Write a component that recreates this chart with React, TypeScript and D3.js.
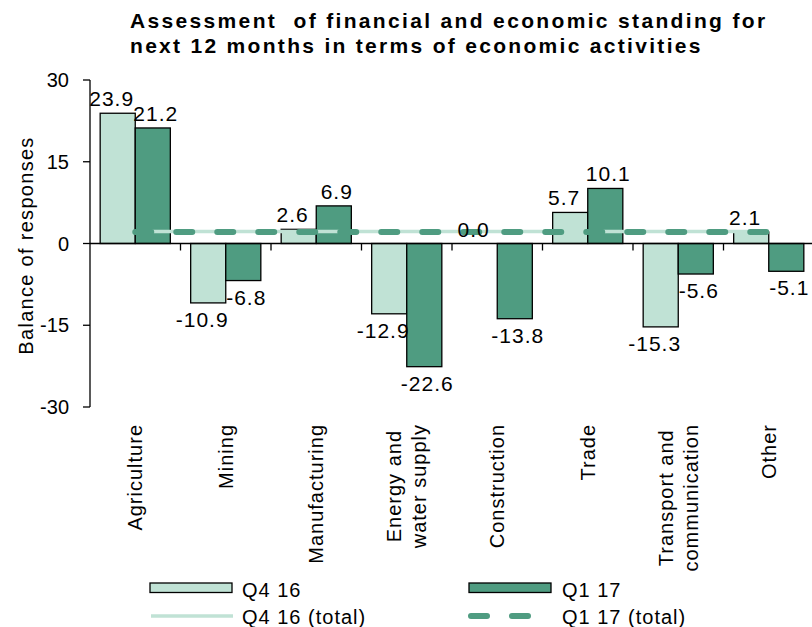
import * as d3 from "d3";

const categories = [
  ["Agriculture"],
  ["Mining"],
  ["Manufacturing"],
  ["Energy and", "water supply"],
  ["Construction"],
  ["Trade"],
  ["Transport and", "communication"],
  ["Other"],
];
const seriesNames = ["Q4 16", "Q1 17"];
const q4Values = [23.9, -10.9, 2.6, -12.9, 0.0, 5.7, -15.3, 2.1];
const q1Values = [21.2, -6.8, 6.9, -22.6, -13.8, 10.1, -5.6, -5.1];
const q4Total = [2.2, 2.2, 2.2, 2.2, 2.2, 2.2, 2.2, 2.2];
const q1Total = [2.1, 2.1, 2.1, 2.1, 2.1, 2.1, 2.1, 2.1];
const yTicks = [-30, -15, 0, 15, 30];
const titleLines = [
  "Assessment  of financial and economic standing for",
  "next 12 months in terms of economic activities",
];

const FONT = "'Liberation Sans', Arial, sans-serif";
const LIGHT = "#c0e2d5";
const DARK = "#4f9c81";

// canvas measure for centering rotated multi-line labels
let ctx: CanvasRenderingContext2D | null = null;
function textWidth(s: string, size: number, spacing: number, weight = "normal") {
  if (!ctx) ctx = document.createElement("canvas").getContext("2d");
  if (!ctx) return s.length * size * 0.5;
  ctx.font = `${weight} ${size}px ${FONT}`;
  return ctx.measureText(s).width + spacing * s.length;
}

export default function App() {
  const width = 812;
  const height = 627;

  const keys = categories.map((c) => c.join(" "));
  const x = d3.scaleBand<string>().domain(keys).range([90, 814]).padding(0);
  const inner = d3
    .scaleBand<string>()
    .domain(seriesNames)
    .range([0, x.bandwidth()])
    .paddingInner(0)
    .paddingOuter(0.29);
  const y = d3.scaleLinear().domain([-30, 30]).range([407, 80]);

  const series = [
    { name: seriesNames[0], values: q4Values, fill: LIGHT, dx: -6 },
    { name: seriesNames[1], values: q1Values, fill: DARK, dx: 3 },
  ];

  const line = d3
    .line<number>()
    .x((_, i) => (x(keys[i]) ?? 0) + x.bandwidth() / 2)
    .y((d) => y(d));

  const labelSize = 20;
  const labelSpacing = 1;
  // the title is spread wider than the plain font gives, like the source
  const titleStretch = 1.155;

  return (
    <svg
      width={width}
      height={height}
      style={{ position: "absolute", left: 0, top: 0, display: "block" }}
      fontFamily={FONT}
    >
      <rect width={width} height={height} fill="#fff" />

      {/* title */}
      {titleLines.map((t, i) => (
        <text
          key={i}
          x={130}
          y={28 + i * 25}
          fontSize={21}
          fontWeight="bold"
          letterSpacing={0.6}
          textLength={textWidth(t, 21, 0.6, "bold") * titleStretch}
          lengthAdjust="spacing"
          style={{ whiteSpace: "pre" }}
        >
          {t}
        </text>
      ))}

      {/* y axis title */}
      <text
        transform={`translate(33,${(y(30) + y(-30)) / 2 + 2}) rotate(-90)`}
        textAnchor="middle"
        fontSize={20}
        letterSpacing={1.3}
      >
        Balance of responses
      </text>

      {/* bars */}
      {series.map((s) =>
        s.values.map((v, i) => {
          const bx = (x(keys[i]) ?? 0) + (inner(s.name) ?? 0);
          const y0 = y(Math.max(0, v));
          const y1 = y(Math.min(0, v));
          return (
            <rect
              key={s.name + i}
              x={bx}
              y={y0}
              width={inner.bandwidth()}
              height={Math.max(0, y1 - y0)}
              fill={s.fill}
              stroke="#000"
              strokeWidth={1.3}
            />
          );
        })
      )}

      {/* y axis */}
      <line x1={90} x2={90} y1={y(30)} y2={y(-30)} stroke="#000" strokeWidth={1.3} />
      {yTicks.map((t) => (
        <g key={t}>
          <line x1={83} x2={90} y1={y(t)} y2={y(t)} stroke="#000" strokeWidth={1.3} />
          <text x={69} y={y(t) + 7} textAnchor="end" fontSize={20}>
            {t}
          </text>
        </g>
      ))}

      {/* x axis */}
      <line x1={90} x2={814} y1={y(0)} y2={y(0)} stroke="#000" strokeWidth={1.3} />
      {keys.map((k) => (
        <line
          key={k}
          x1={(x(k) ?? 0) + x.bandwidth()}
          x2={(x(k) ?? 0) + x.bandwidth()}
          y1={y(0)}
          y2={y(0) + 7}
          stroke="#000"
          strokeWidth={1.3}
        />
      ))}

      {/* total lines */}
      <path d={line(q4Total) ?? ""} fill="none" stroke={LIGHT} strokeWidth={3.5} />
      <path
        d={line(q1Total) ?? ""}
        fill="none"
        stroke={DARK}
        strokeWidth={6}
        strokeDasharray="16 25"
        strokeLinecap="round"
      />

      {/* data labels */}
      {series.map((s) =>
        s.values.map((v, i) => {
          const cx = (x(keys[i]) ?? 0) + (inner(s.name) ?? 0) + inner.bandwidth() / 2 + s.dx;
          const ly = v >= 0 ? y(v) - 7 : y(v) + 24;
          return (
            <text
              key={"l" + s.name + i}
              x={cx}
              y={ly}
              textAnchor="middle"
              fontSize={21}
              letterSpacing={1}
            >
              {v.toFixed(1)}
            </text>
          );
        })
      )}

      {/* category labels */}
      {categories.map((lines, i) => {
        const cx = (x(keys[i]) ?? 0) + x.bandwidth() / 2;
        const maxW = d3.max(lines, (l) => textWidth(l, labelSize, labelSpacing)) ?? 0;
        return (
          <g key={keys[i]} transform={`translate(${cx},424) rotate(-90)`}>
            {lines.map((l, j) => (
              <text
                key={j}
                x={-maxW / 2}
                y={(j - (lines.length - 1) / 2) * 25 + 7}
                textAnchor="middle"
                fontSize={labelSize}
                letterSpacing={labelSpacing}
              >
                {l}
              </text>
            ))}
          </g>
        );
      })}

      {/* legend */}
      <rect x={150} y={583} width={82} height={9.5} fill={LIGHT} stroke="#000" strokeWidth={1.3} />
      <text x={242} y={597} fontSize={20} letterSpacing={1}>{seriesNames[0]}</text>
      <rect x={469} y={583} width={82} height={9.5} fill={DARK} stroke="#000" strokeWidth={1.3} />
      <text x={562} y={597} fontSize={20} letterSpacing={1}>{seriesNames[1]}</text>
      <line x1={151} x2={233} y1={616} y2={616} stroke={LIGHT} strokeWidth={3.5} />
      <text x={242} y={624} fontSize={20} letterSpacing={1}>{seriesNames[0] + " (total)"}</text>
      <line
        x1={471}
        x2={551}
        y1={616}
        y2={616}
        stroke={DARK}
        strokeWidth={6}
        strokeDasharray="16 25"
        strokeLinecap="round"
      />
      <text x={562} y={624} fontSize={20} letterSpacing={1}>{seriesNames[1] + " (total)"}</text>
    </svg>
  );
}
